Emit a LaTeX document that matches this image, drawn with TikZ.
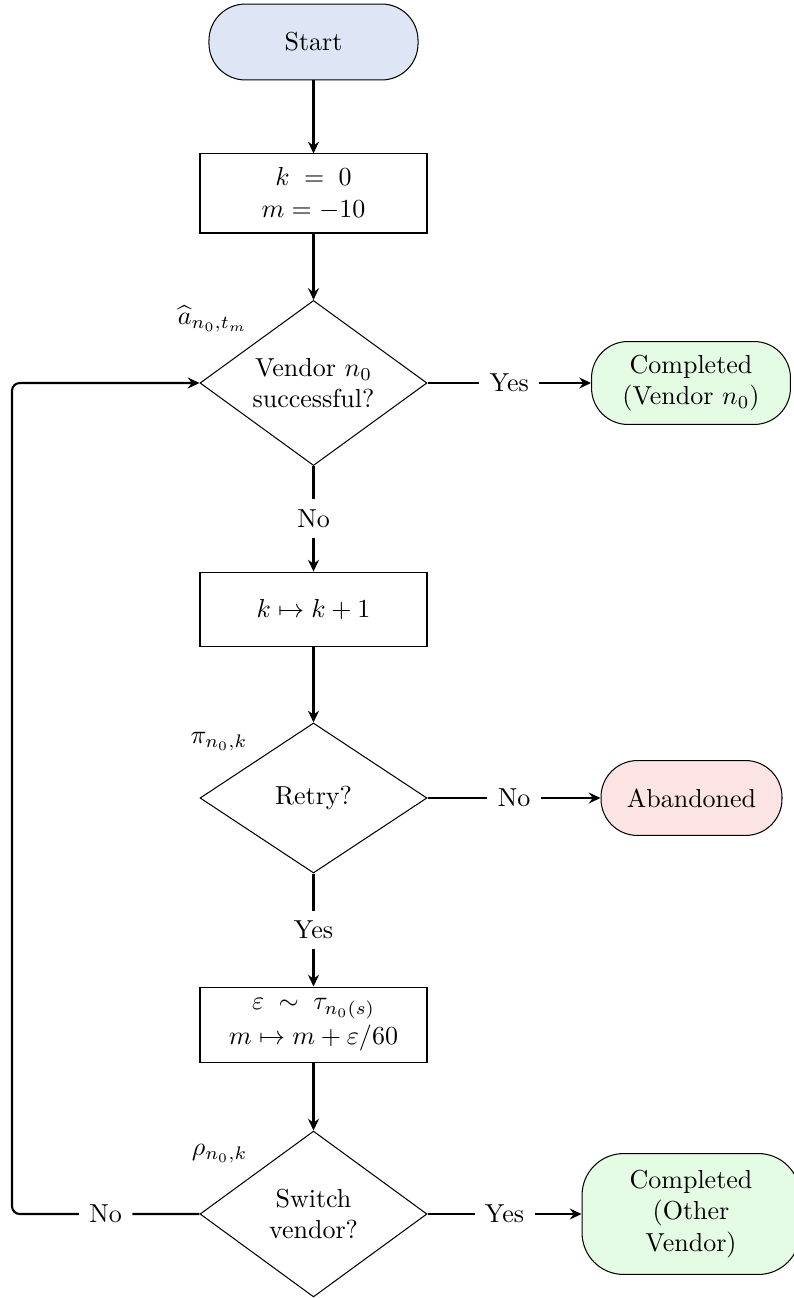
\documentclass[tikz,border=0pt]{standalone}
\usepackage{amsmath,amssymb}
\usetikzlibrary{shapes.geometric,arrows.meta}
\definecolor{startblue}{RGB}{222,230,245}
\definecolor{donegreen}{RGB}{228,252,228}
\definecolor{abandonred}{RGB}{252,228,228}
\begin{document}
\begin{tikzpicture}[x=0.3846pt,y=-0.3846pt,
  terminal/.style={draw, rectangle, rounded corners=14pt, align=center, inner sep=2pt},
  procbox/.style={draw, rectangle, align=center, minimum width=87.3pt, inner sep=2pt},
  decision/.style={draw, diamond, align=center, minimum width=87.3pt, inner sep=0pt, aspect=1.4},
  flow/.style={thick, -{Stealth[length=4.5pt,width=4.2pt,inset=1.5pt]}},
  edgelabel/.style={fill=white, inner sep=4pt},
  sidelabel/.style={anchor=south east, inner sep=3.33pt}
]
\useasboundingbox (0,0) rectangle (793,1298);

\node[terminal, fill=startblue, minimum width=80.4pt, minimum height=29.2pt] (start) at (313.5,42) {Start};
\node[procbox, minimum height=30.4pt] (init) at (313.5,193.5) {$k\;=\;0$\\$m = -10$};
\node[decision, minimum height=63.5pt] (d1) at (313.5,383) {Vendor $n_0$\\successful?};
\node[terminal, fill=donegreen, minimum width=76.5pt, minimum height=31.9pt] (comp1) at (691,383) {Completed\\(Vendor $n_0$)};
\node[procbox, minimum height=28.8pt] (inc) at (313.5,609.5) {$k \mapsto k+1$};
\node[decision, minimum height=57.7pt] (d2) at (313.5,798) {Retry?};
\node[terminal, fill=abandonred, minimum width=69.6pt, minimum height=28.8pt] (aband) at (691.5,798) {Abandoned};
\node[procbox, minimum height=29.2pt] (upd) at (313.5,1025) {$\varepsilon\;\sim\;\tau_{n_0(s)}$\\[1.5pt]$m \mapsto m + \varepsilon/60$};
\node[decision, minimum height=63.8pt] (d3) at (313.5,1214) {Switch\\vendor?};
\node[terminal, fill=donegreen, rounded corners=16pt, minimum width=83.8pt, minimum height=46.5pt] (comp2) at (691,1214) {Completed\\(Other\\Vendor)};

\node[sidelabel] (la) at (d1.north west) {$\widehat{a}_{n_0,t_m}$};
\node[sidelabel] (lb) at (d2.north west) {$\pi_{n_0,k}$};
\node[sidelabel] (lc) at (d3.north west) {$\rho_{n_0,k}$};

\draw[flow] (start) -- (init);
\draw[flow] (init) -- (d1);
\draw[flow] (d1) -- node[edgelabel] {No} (inc);
\draw[flow] (inc) -- (d2);
\draw[flow] (d2) -- node[edgelabel] {Yes} (upd);
\draw[flow] (upd) -- (d3);
\draw[flow] (d1) -- node[edgelabel] {Yes} (comp1);
\draw[flow] (d2) -- node[edgelabel] {No} (aband);
\draw[flow] (d3) -- node[edgelabel] {Yes} (comp2);
\coordinate (loopcorner) at (12,1214);
\draw[flow, rounded corners=3pt] (d3.west) -- node[edgelabel] {No} (loopcorner) |- (d1.west);
\end{tikzpicture}
\end{document}
